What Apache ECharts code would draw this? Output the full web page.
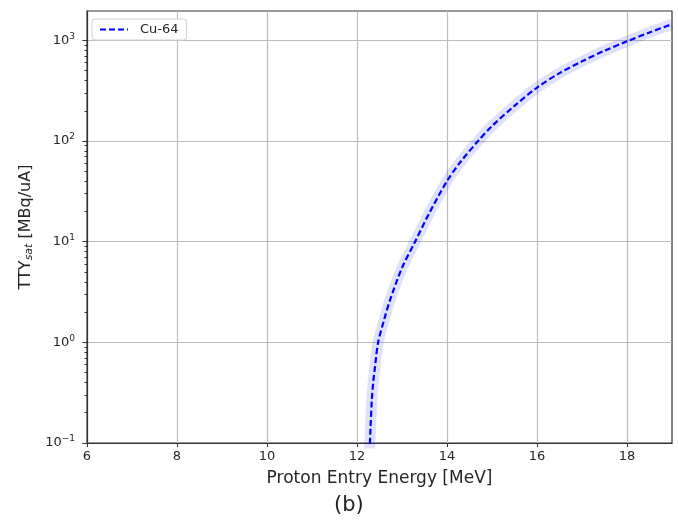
<!DOCTYPE html>
<html>
<head>
<meta charset="utf-8">
<script src="https://cdn.jsdelivr.net/npm/echarts@6/dist/echarts.min.js"></script>
<style>
  html, body { margin: 0; padding: 0; background: #fff; }
  #main { width: 678px; height: 523px; }
</style>
</head>
<body>
<div id="main"></div>
<script>
// proton entry energy (MeV) and saturated thick target yield (MBq/uA)
var energy = [12.28, 12.30, 12.33, 12.36, 12.40, 12.47, 12.6, 12.73, 13.0, 13.29, 13.6, 14.0, 14.3,
              14.69, 15.0, 15.5, 16.0, 16.5, 17.0, 17.5, 18.0, 18.5, 19.0];
var tty = [0.08, 0.14, 0.27, 0.4, 0.57, 1.0, 1.66, 2.6, 5.5, 10, 19, 40, 62,
           100, 141, 224, 340, 473, 620, 790, 980, 1200, 1450];

var xTicks = [6, 8, 10, 12, 14, 16, 18];
var yTicks = [0.1, 1, 10, 100, 1000];
var yExponents = ['\u22121', '0', '1', '2', '3'];
var minorMantissa = [2, 3, 4, 5, 6, 7, 8, 9];

var minorTicks = [];
yTicks.forEach(function (d) {
    minorMantissa.forEach(function (m) {
        var v = d * m;
        if (v < 1960) minorTicks.push(+v.toPrecision(3));
    });
});

var pts = energy.map(function (e, i) { return [e, tty[i]]; });

var myChart = echarts.init(document.getElementById('main'));
var font = 'DejaVu Sans';

var option = {
    animation: false,
    textStyle: { fontFamily: font },
    grid: {
        left: 87, right: 6, top: 11, bottom: 80,
        show: true,
        borderColor: '#333',
        borderWidth: 1.2
    },
    legend: {
        data: ['Cu-64'],
        left: 92, top: 19,
        orient: 'vertical',
        padding: [4, 8, 4, 7],
        itemWidth: 28, itemHeight: 12,
        borderColor: '#d0d0d0', borderWidth: 1, borderRadius: 3,
        backgroundColor: '#fff',
        itemStyle: { opacity: 0 },
        textStyle: { fontFamily: font, fontSize: 13, color: '#262626', padding: [0, 0, 0, 7] }
    },
    xAxis: {
        type: 'value',
        min: 6, max: 19, interval: 2,
        name: 'Proton Entry Energy [MeV]',
        nameLocation: 'middle',
        nameGap: 27,
        nameTextStyle: { fontFamily: font, fontSize: 17, color: '#262626' },
        axisLine: { lineStyle: { color: '#333', width: 1.2 } },
        axisTick: { inside: false, length: 4, lineStyle: { color: '#333' }, customValues: xTicks },
        axisLabel: { fontSize: 13, color: '#262626', margin: 7, customValues: xTicks },
        splitLine: { show: true, lineStyle: { color: '#bdbdbd', width: 1.2 } }
    },
    yAxis: [{
        type: 'log',
        logBase: 10,
        min: 0.1, max: 1960,
        name: 'TTY{sub|sat} [MBq/uA]',
        nameLocation: 'middle',
        nameGap: 52,
        nameTextStyle: {
            fontFamily: font, fontSize: 16, color: '#262626',
            rich: {
                sub: { fontSize: 11, fontStyle: 'italic', color: '#262626', verticalAlign: 'bottom', padding: [6, 0, 0, 0] }
            }
        },
        axisLine: { show: true, lineStyle: { color: '#333', width: 1.2 } },
        axisTick: { show: true, length: 4.5, lineStyle: { color: '#333' }, customValues: yTicks },
        axisLabel: {
            customValues: yTicks,
            margin: 12,
            color: '#262626',
            fontSize: 13,
            formatter: function (v) {
                var i = yTicks.findIndex(function (t) { return Math.abs(t - v) / t < 1e-6; });
                return i < 0 ? '' : '10{sup|' + yExponents[i] + '}';
            },
            rich: {
                sup: { fontSize: 9, color: '#262626', verticalAlign: 'top', padding: [0, 0, 8, 0] }
            }
        },
        splitLine: { show: true, lineStyle: { color: '#bdbdbd', width: 1.2 } }
    }, {
        type: 'log',
        logBase: 10,
        min: 0.1, max: 1960,
        position: 'left',
        axisLine: { show: false },
        axisLabel: { show: false },
        splitLine: { show: false },
        axisTick: { show: true, length: 2.5, lineStyle: { color: '#333' }, customValues: minorTicks }
    }],
    series: [{
        name: 'band',
        type: 'line',
        data: pts,
        smooth: 0.3,
        symbol: 'none',
        silent: true,
        z: 1,
        lineStyle: { width: 11, color: 'rgba(0,0,255,0.12)', cap: 'butt' }
    }, {
        name: 'Cu-64',
        type: 'line',
        data: pts,
        smooth: 0.3,
        symbol: 'none',
        z: 3,
        itemStyle: { color: '#0000ff' },
        lineStyle: { width: 2.2, color: '#0000ff', type: [6, 3] }
    }],
    graphic: [{
        type: 'text',
        left: 334, top: 495,
        style: { text: '(b)', font: '21px "DejaVu Sans"', fill: '#222' }
    }]
};
myChart.setOption(option);
</script>
</body>
</html>
